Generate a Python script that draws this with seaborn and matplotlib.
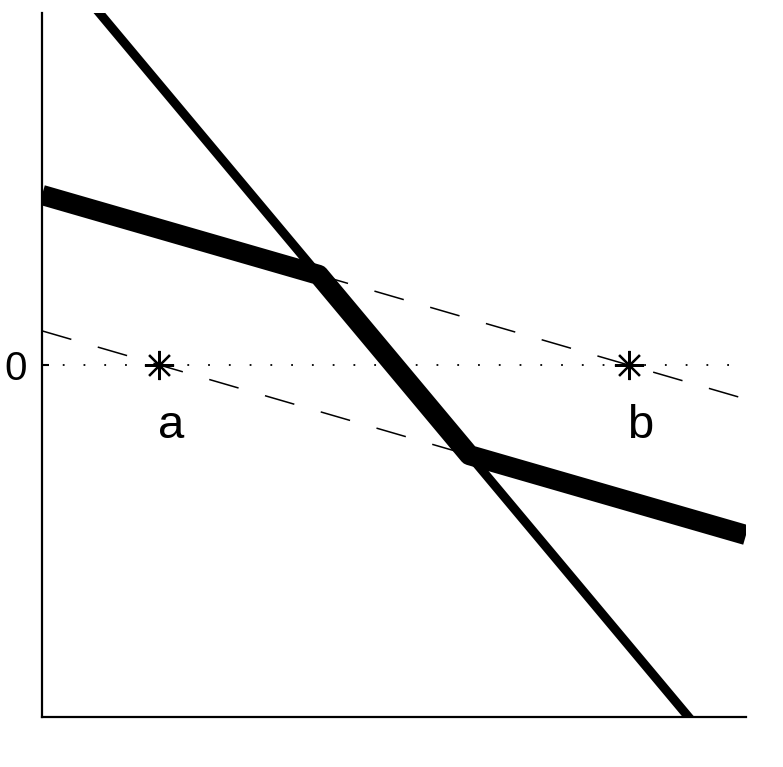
import matplotlib
matplotlib.use("Agg")
import matplotlib.pyplot as plt
import seaborn as sns

# values (x in [0, 1], y in [-1, 1])
steep_x = [0.0, 1.0]
steep_y = [1.195, -1.195]

thick_x = [0.0, 0.393, 0.607, 1.0]
thick_y = [0.483, 0.256, -0.256, -0.483]

upper_dash_x = [0.393, 1.0]
upper_dash_y = [0.256, -0.097]
lower_dash_x = [0.0, 0.607]
lower_dash_y = [0.097, -0.256]

zero_x = [0.0, 1.0]
zero_y = [0.0, 0.0]

point_names = ["a", "b"]
point_x = [1 / 6, 5 / 6]
point_y = [0.0, 0.0]

sns.set_style("white")
plt.rcParams["font.family"] = ["Liberation Sans", "DejaVu Sans"]
plt.rcParams["text.color"] = "black"
plt.rcParams["ytick.color"] = "black"

fig = plt.figure(figsize=(7.83, 7.67), dpi=100)
ax = fig.add_axes([42 / 783, 1 - 717 / 767, 704 / 783, 704 / 767])

sns.lineplot(x=zero_x, y=zero_y, ax=ax, color="black", lw=1.3,
             linestyle=(0, (1, 10.5)), sort=False, estimator=None)
sns.lineplot(x=upper_dash_x, y=upper_dash_y, ax=ax, color="black", lw=1.1,
             linestyle=(0, (20, 18)), sort=False, estimator=None)
sns.lineplot(x=lower_dash_x, y=lower_dash_y, ax=ax, color="black", lw=1.1,
             linestyle=(0, (20, 18)), sort=False, estimator=None)
sns.lineplot(x=steep_x, y=steep_y, ax=ax, color="black", lw=6.5,
             solid_capstyle="butt", sort=False, estimator=None)
sns.lineplot(x=thick_x, y=thick_y, ax=ax, color="black", lw=14.5,
             solid_capstyle="butt", solid_joinstyle="round",
             sort=False, estimator=None)

ax.plot(point_x, point_y, linestyle="none", marker=(8, 2, 0),
        markersize=21, markeredgewidth=1.6, color="black")
for name, px in zip(point_names, point_x):
    ax.text(px + 0.017, -0.173, name, fontsize=34, ha="center", va="center",
            color="black")

ax.set_xlim(0, 1)
ax.set_ylim(-1, 1)
ax.set_xticks([])
ax.set_yticks([0])
ax.set_yticklabels(["0"], fontsize=29, color="black")
ax.tick_params(axis="y", direction="in", length=5, width=1.5, pad=11,
               left=True, colors="black")
for side in ["top", "right"]:
    ax.spines[side].set_visible(False)
for side in ["left", "bottom"]:
    ax.spines[side].set_linewidth(1.6)
    ax.spines[side].set_color("black")

fig.savefig("out.png", dpi=100)
